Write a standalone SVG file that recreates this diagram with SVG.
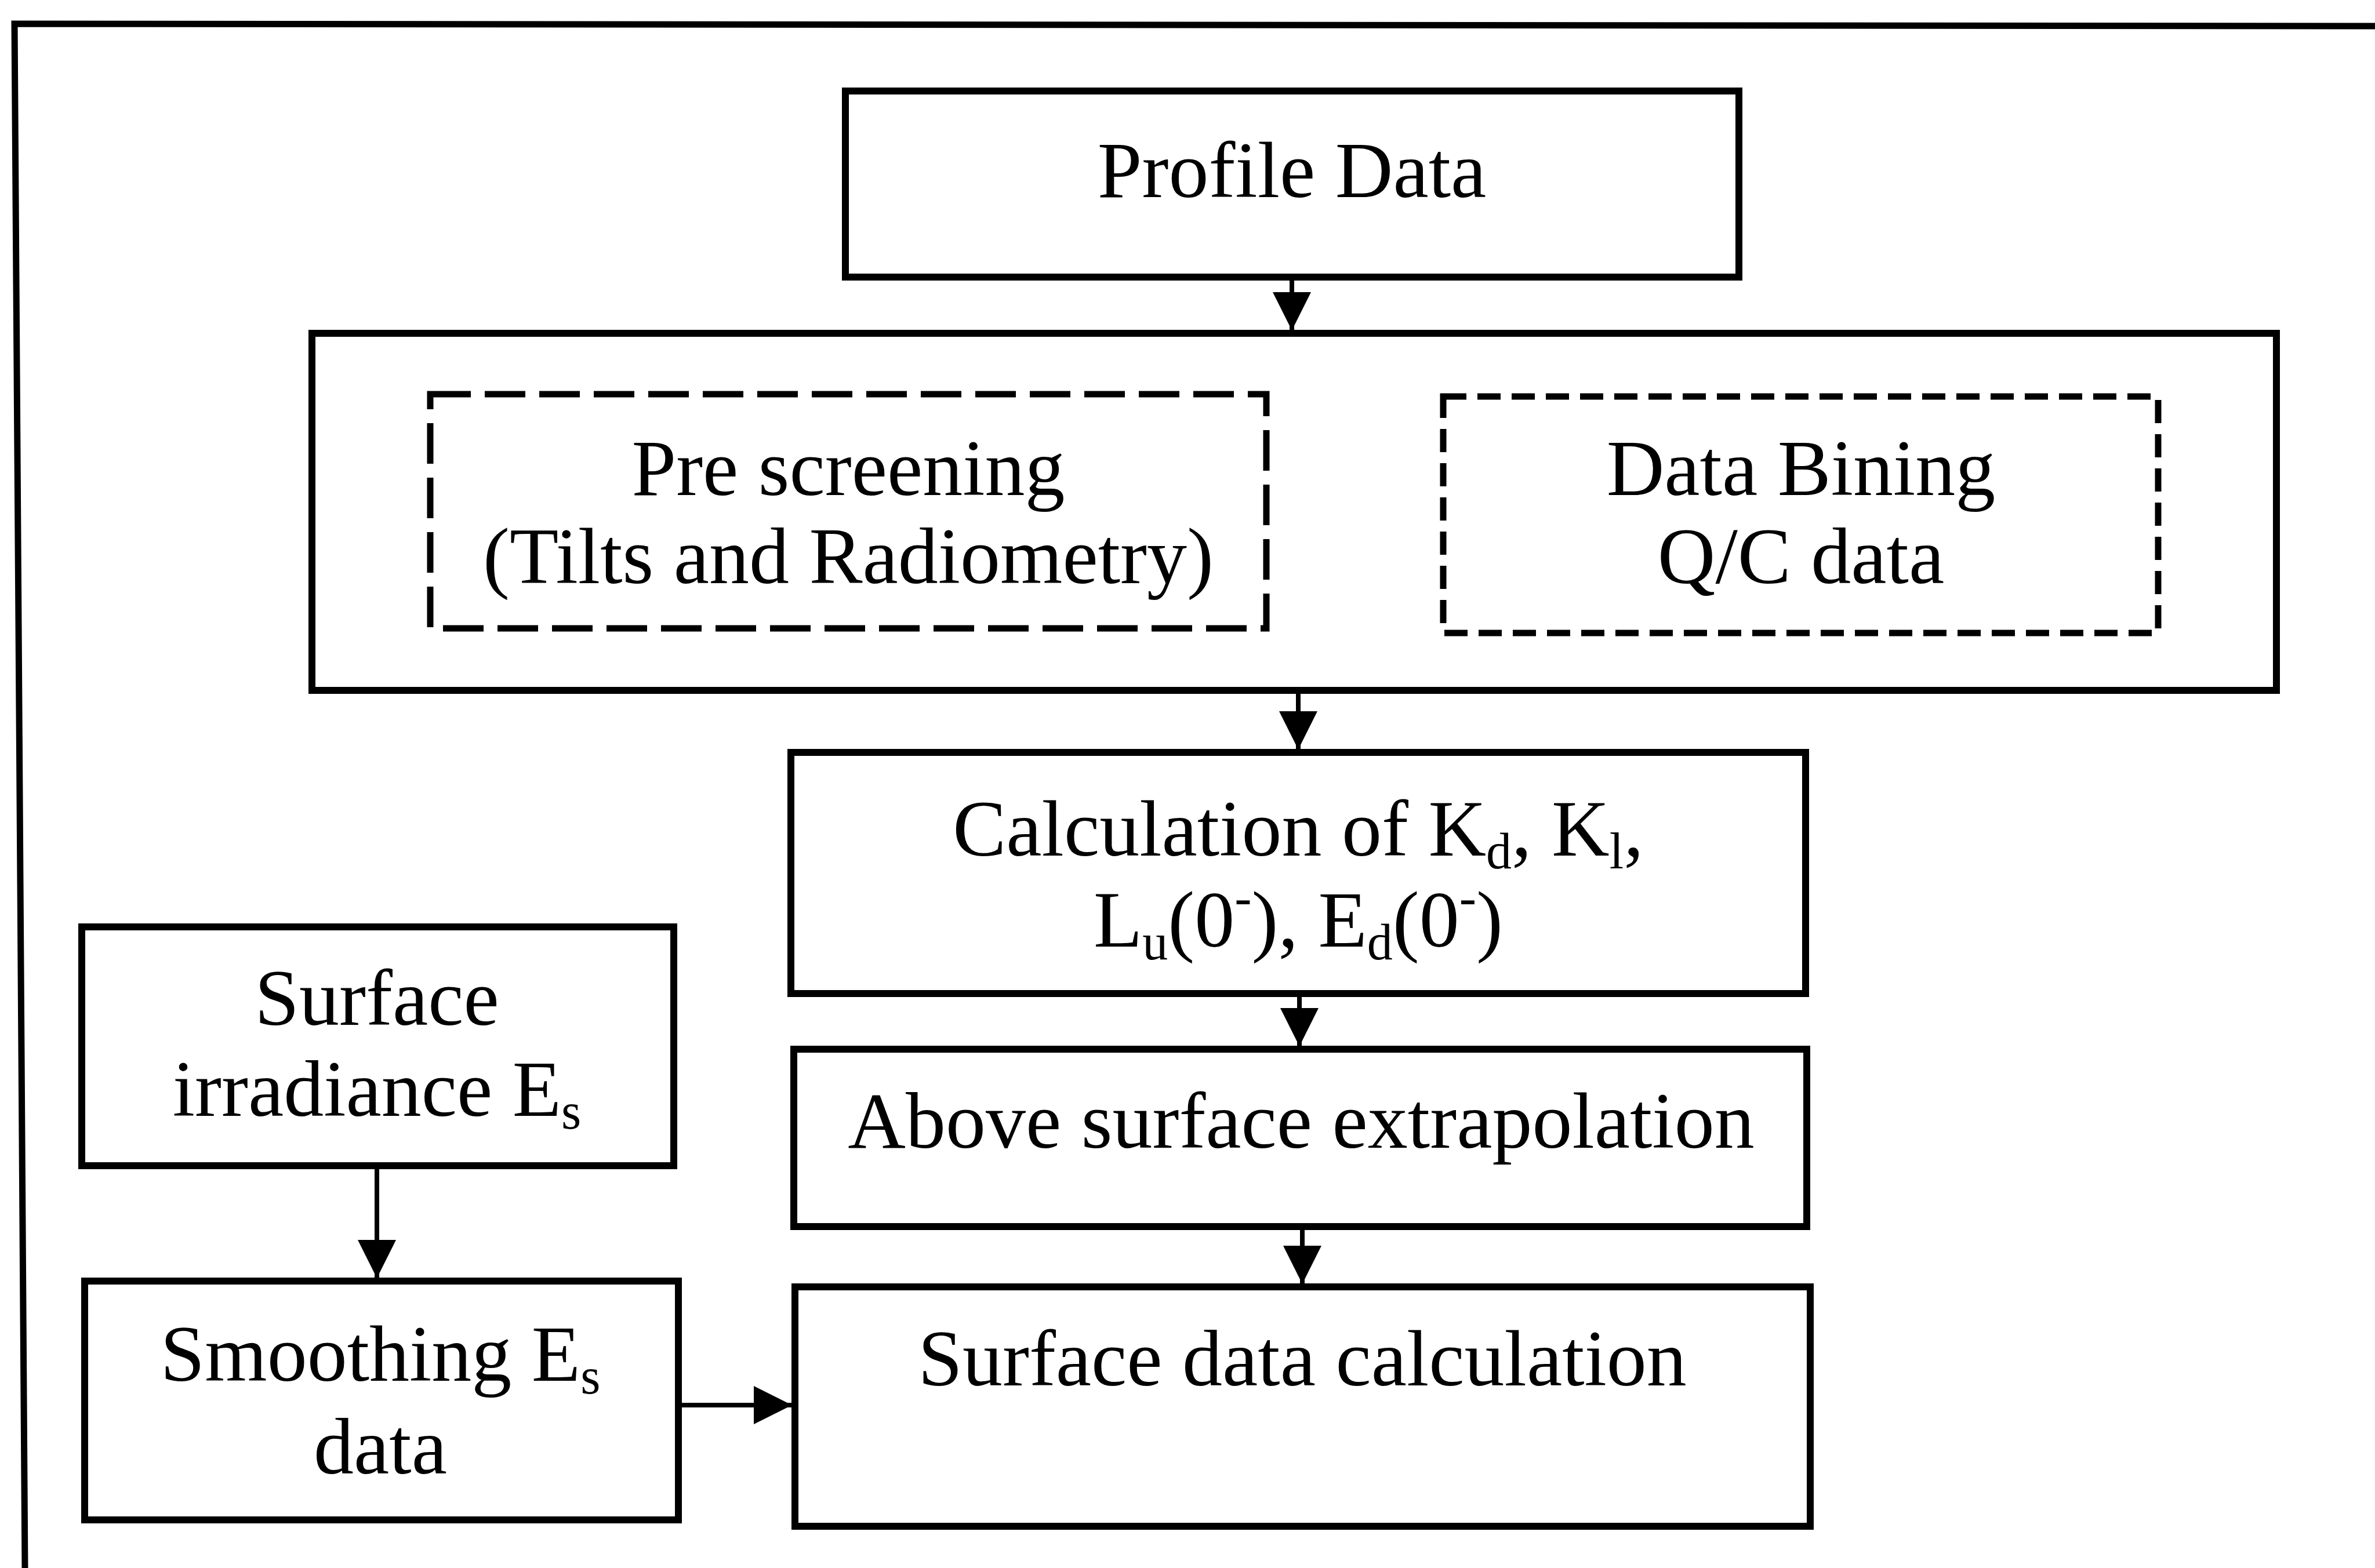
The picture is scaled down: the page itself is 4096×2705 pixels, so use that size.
<svg xmlns="http://www.w3.org/2000/svg" width="4096" height="2705" viewBox="0 0 4096 2705">
<defs>
<style>
.box{fill:#fff;stroke:#000;stroke-width:12}
.dash1{fill:none;stroke:#000;stroke-width:11;stroke-dasharray:70 24}
.dash2{fill:none;stroke:#000;stroke-width:11;stroke-dasharray:40 19}
.conn{fill:none;stroke:#000;stroke-width:8}
text{font-family:"Liberation Serif","Times New Roman",serif;font-size:138px;fill:#000;text-anchor:middle}
.sub{font-size:88px}
</style>
<marker id="ah" viewBox="0 0 10 10" refX="10" refY="5" markerUnits="userSpaceOnUse" markerWidth="68" markerHeight="66" orient="auto">
<path d="M0,0 L10,5 L0,10 Z" fill="#000"/>
</marker>
</defs>
<rect width="4096" height="2705" fill="#fff"/>
<polyline points="43,2705 25,41 4096,45" fill="none" stroke="#000" stroke-width="11"/>

<g id="profile-data">
<rect class="box" x="1458" y="157" width="1541" height="321"/>
<text x="2228" y="340">Profile Data</text>
</g>

<g id="processing">
<rect class="box" x="538" y="575" width="3388" height="616"/>
<g id="pre-screening">
<rect class="dash1" x="742" y="680" width="1442" height="404"/>
<text x="1463" y="854">Pre screening</text>
<text x="1463" y="1006">(Tilts and Radiometry)</text>
</g>
<g id="data-bining">
<rect class="dash2" x="2489" y="684" width="1233" height="408"/>
<text x="3106" y="854">Data Bining</text>
<text x="3106" y="1006">Q/C data</text>
</g>
</g>

<g id="calculation">
<rect class="box" x="1364" y="1298" width="1750" height="416"/>
<text x="2239" y="1476">Calculation of K<tspan class="sub" dy="22">d</tspan><tspan dy="-22">, K</tspan><tspan class="sub" dy="22">l</tspan><tspan dy="-22">,</tspan></text>
<text x="2239" y="1633">L<tspan class="sub" dy="22">u</tspan><tspan dy="-22">(0</tspan><tspan class="sub" dy="-55">-</tspan><tspan dy="55">), E</tspan><tspan class="sub" dy="22">d</tspan><tspan dy="-22">(0</tspan><tspan class="sub" dy="-55">-</tspan><tspan dy="55">)</tspan></text>
</g>

<g id="above-surface">
<rect class="box" x="1369" y="1810" width="1747" height="306"/>
<text x="2244" y="1980">Above surface extrapolation</text>
</g>

<g id="surface-data">
<rect class="box" x="1371" y="2220" width="1751" height="413"/>
<text x="2246" y="2390">Surface data calculation</text>
</g>

<g id="surface-irradiance">
<rect class="box" x="141" y="1599" width="1021" height="412"/>
<text x="650" y="1768">Surface</text>
<text x="650" y="1925">irradiance E<tspan class="sub" dy="22">s</tspan></text>
</g>

<g id="smoothing">
<rect class="box" x="146" y="2210" width="1024" height="412"/>
<text x="656" y="2382">Smoothing E<tspan class="sub" dy="22">s</tspan></text>
<text x="656" y="2542">data</text>
</g>

<g id="connectors">
<line class="conn" x1="2228" y1="478" x2="2228" y2="570" marker-end="url(#ah)"/>
<line class="conn" x1="2239" y1="1191" x2="2239" y2="1293" marker-end="url(#ah)"/>
<line class="conn" x1="2241" y1="1714" x2="2241" y2="1805" marker-end="url(#ah)"/>
<line class="conn" x1="2246" y1="2116" x2="2246" y2="2215" marker-end="url(#ah)"/>
<line class="conn" x1="650" y1="2011" x2="650" y2="2205" marker-end="url(#ah)"/>
<line class="conn" x1="1170" y1="2424" x2="1366" y2="2424" marker-end="url(#ah)"/>
</g>
</svg>
